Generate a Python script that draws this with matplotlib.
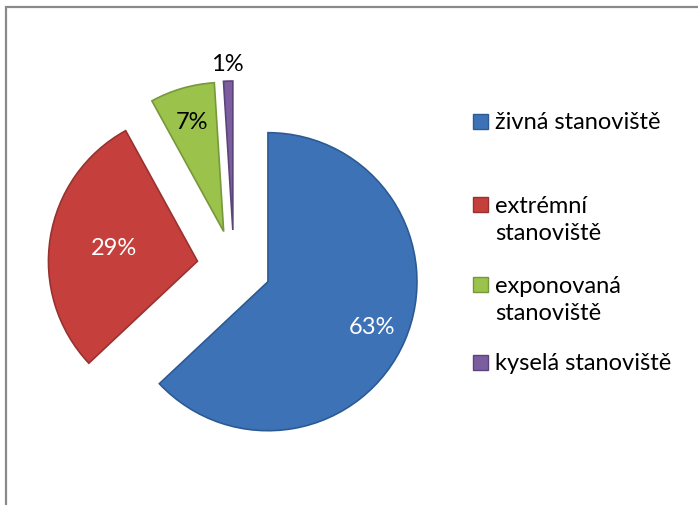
import matplotlib.pyplot as plt
import numpy as np
from matplotlib.patches import Rectangle

W, H = 698, 506

categories = ["živná stanoviště", "extrémní\nstanoviště", "exponovaná\nstanoviště", "kyselá stanoviště"]
shares = [63, 29, 7, 1]
colors = ["#3d73b6", "#c5403d", "#9bc24b", "#7c5da0"]
edge_colors = ["#2c5a93", "#983230", "#77983a", "#5c4479"]
label_colors = ["white", "white", "black", "black"]
# distance of the percentage labels from each wedge apex, in radii
label_dist = [0.76, 0.57, 0.77, 1.12]
# vertical centres of the legend entries (pixels from the top)
legend_y = [122, 220, 300, 363]

FONT = "Lato"
RADIUS = 149


def py(y):
    # pixel row (from the top) -> data y
    return H - y


fig = plt.figure(figsize=(W / 100, H / 100), dpi=100)
ax = fig.add_axes([0, 0, 1, 1])

# explode is in data units here (pixels), not in radii
wedges, _ = ax.pie(
    shares,
    colors=colors,
    startangle=90,
    counterclock=False,
    explode=[37] * len(shares),
    center=(234, py(268)),
    radius=RADIUS,
    wedgeprops=dict(linewidth=1.2),
)
for w, ec in zip(wedges, edge_colors):
    w.set_edgecolor(ec)

for w, share, dist, tc in zip(wedges, shares, label_dist, label_colors):
    mid = np.deg2rad((w.theta1 + w.theta2) / 2)
    cx, cy = w.center
    x = cx + dist * w.r * np.cos(mid)
    y = cy + dist * w.r * np.sin(mid)
    ax.text(x, y, f"{share}%", color=tc, fontsize=17, family=FONT,
            ha="center", va="center")

ax.set_xlim(0, W)
ax.set_ylim(0, H)
ax.set_aspect("auto")
ax.axis("off")

# legend drawn by hand: Excel spaces the wrapped entries unevenly
for label, col, ec, yc in zip(categories, colors, edge_colors, legend_y):
    n_lines = label.count("\n") + 1
    top = yc - (n_lines - 1) * 15
    ax.add_patch(Rectangle((473, py(top + 7.5)), 15, 15, facecolor=col,
                           edgecolor=ec, linewidth=1))
    ax.text(495, py(yc), label, fontsize=17, family=FONT, ha="left",
            va="center", linespacing=1.36, color="black")

# chart frame (only top and left edges fall inside the image)
ax.add_patch(Rectangle((6, -20), W + 20, py(8) + 20, fill=False,
                       edgecolor="#8a8a8a", linewidth=1.6))

fig.savefig("out.png", dpi=100)
